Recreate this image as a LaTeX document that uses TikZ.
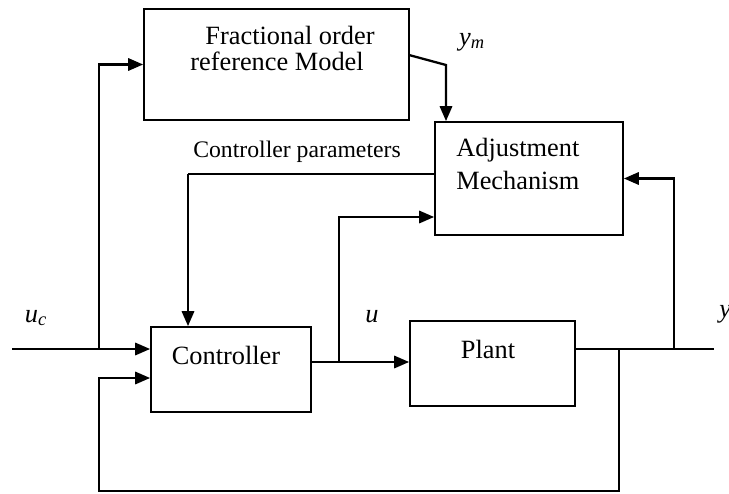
\documentclass[tikz,border=0pt]{standalone}
\usepackage{fontspec}
\setmainfont{Liberation Serif}
\usetikzlibrary{arrows.meta}
\tikzset{
  block/.style={draw, line width=1pt, inner sep=0pt},
  txt/.style={font=\fontsize{15}{17}\selectfont, inner sep=0pt},
  small/.style={font=\fontsize{13.5}{16}\selectfont, inner sep=0pt},
  sig/.style={line width=1.3pt, -{Triangle[length=8.5pt,width=7pt]}},
  wire/.style={line width=0.75pt},
}
\begin{document}
\begin{tikzpicture}[x=0.02cm, y=-0.02cm]
      \useasboundingbox (0,0) rectangle (729,493);

      % blocks
      \node[block, minimum width=265*0.02cm, minimum height=111*0.02cm] at (276.5,64.5) (model) {};
      \node[block, minimum width=188*0.02cm, minimum height=113*0.02cm] at (529,178.5) (adj) {};
      \node[block, minimum width=160*0.02cm, minimum height=85*0.02cm] at (231,369.5) (ctrl) {};
      \node[block, minimum width=165*0.02cm, minimum height=85*0.02cm] at (492.5,363.5) (plant) {};

      \node[txt] at (290,35) (model_1) {Fractional order};
      \node[txt] at (277,61) (model_2) {reference Model};
      \node[txt, anchor=west] at (456,150) (adj_1) {Adjustment};
      \node[txt, anchor=west] at (456,180) (adj_2) {Mechanism};
      \node[txt] at (226,355) (ctrl_t) {Controller};
      \node[txt] at (488,349) (plant_t) {Plant};
      \node[small] at (297,152) (cpar) {Controller parameters};

      \node[txt] at (472,42) (ym) {\textit{y\textsubscript{m}}};
      \node[txt] at (36,318) (uc) {\textit{u\textsubscript{c}}};
      \node[txt] at (372,317) (u) {\textit{u}};
      \node[txt, anchor=west] at (719,314) (y) {\textit{y}};

      % junctions
      \coordinate (in) at (12,349);
      \coordinate (j1) at (99,349);
      \coordinate (fb0) at (99,491);
      \coordinate (fb1) at (99,378);
      \coordinate (j3) at (339,362);
      \coordinate (a1) at (339,217);
      \coordinate (j4) at (619,349);
      \coordinate (j5) at (674,349);
      \coordinate (out) at (714,349);
      \coordinate (cp) at (188,174);
      \coordinate (ym1) at (446,65);
      \coordinate (ym0) at (409,55);

      \draw[sig] (in) -- (in -| ctrl.west);
      \draw[sig] (j1) |- (model.west);
      \draw[wire] (plant.east |- j4) -- (out);
      \draw[sig] (j4) |- (fb0) -- (fb1) -- (fb1 -| ctrl.west);
      \draw[sig] (j3 -| ctrl.east) -- (j3 -| plant.west);
      \draw[sig] (j3) -- (a1) -- (a1 -| adj.west);
      \draw[sig] (j5) |- (adj.east);
      \draw[sig] (ym0) -- (ym1) -- (ym1 |- adj.north);
      \draw[wire] (adj.west |- cp) -- (cp);
      \draw[sig] (cp) -- (cp |- ctrl.north);
\end{tikzpicture}
\end{document}
